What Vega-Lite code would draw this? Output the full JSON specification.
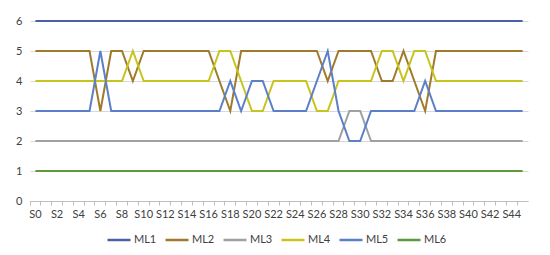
{
  "$schema": "https://vega.github.io/schema/vega-lite/v6.json",
  "autosize": "none",
  "width": 498,
  "height": 180,
  "padding": {"left": 30, "top": 21, "right": 22, "bottom": 54},
  "background": "white",
  "config": {
    "font": "Lato",
    "view": {"stroke": null},
    "axis": {"labelFont": "Lato", "labelFontSize": 11, "labelColor": "#404040"}
  },
  "data": {"values": [
{"s":"S0","k":"ML1","v":6},{"s":"S1","k":"ML1","v":6},{"s":"S2","k":"ML1","v":6},{"s":"S3","k":"ML1","v":6},{"s":"S4","k":"ML1","v":6},{"s":"S5","k":"ML1","v":6},{"s":"S6","k":"ML1","v":6},{"s":"S7","k":"ML1","v":6},{"s":"S8","k":"ML1","v":6},{"s":"S9","k":"ML1","v":6},
{"s":"S10","k":"ML1","v":6},{"s":"S11","k":"ML1","v":6},{"s":"S12","k":"ML1","v":6},{"s":"S13","k":"ML1","v":6},{"s":"S14","k":"ML1","v":6},{"s":"S15","k":"ML1","v":6},{"s":"S16","k":"ML1","v":6},{"s":"S17","k":"ML1","v":6},{"s":"S18","k":"ML1","v":6},{"s":"S19","k":"ML1","v":6},
{"s":"S20","k":"ML1","v":6},{"s":"S21","k":"ML1","v":6},{"s":"S22","k":"ML1","v":6},{"s":"S23","k":"ML1","v":6},{"s":"S24","k":"ML1","v":6},{"s":"S25","k":"ML1","v":6},{"s":"S26","k":"ML1","v":6},{"s":"S27","k":"ML1","v":6},{"s":"S28","k":"ML1","v":6},{"s":"S29","k":"ML1","v":6},
{"s":"S30","k":"ML1","v":6},{"s":"S31","k":"ML1","v":6},{"s":"S32","k":"ML1","v":6},{"s":"S33","k":"ML1","v":6},{"s":"S34","k":"ML1","v":6},{"s":"S35","k":"ML1","v":6},{"s":"S36","k":"ML1","v":6},{"s":"S37","k":"ML1","v":6},{"s":"S38","k":"ML1","v":6},{"s":"S39","k":"ML1","v":6},
{"s":"S40","k":"ML1","v":6},{"s":"S41","k":"ML1","v":6},{"s":"S42","k":"ML1","v":6},{"s":"S43","k":"ML1","v":6},{"s":"S44","k":"ML1","v":6},{"s":"S45","k":"ML1","v":6},
{"s":"S0","k":"ML2","v":5},{"s":"S1","k":"ML2","v":5},{"s":"S2","k":"ML2","v":5},{"s":"S3","k":"ML2","v":5},{"s":"S4","k":"ML2","v":5},{"s":"S5","k":"ML2","v":5},{"s":"S6","k":"ML2","v":3},{"s":"S7","k":"ML2","v":5},{"s":"S8","k":"ML2","v":5},{"s":"S9","k":"ML2","v":4},
{"s":"S10","k":"ML2","v":5},{"s":"S11","k":"ML2","v":5},{"s":"S12","k":"ML2","v":5},{"s":"S13","k":"ML2","v":5},{"s":"S14","k":"ML2","v":5},{"s":"S15","k":"ML2","v":5},{"s":"S16","k":"ML2","v":5},{"s":"S17","k":"ML2","v":4},{"s":"S18","k":"ML2","v":3},{"s":"S19","k":"ML2","v":5},
{"s":"S20","k":"ML2","v":5},{"s":"S21","k":"ML2","v":5},{"s":"S22","k":"ML2","v":5},{"s":"S23","k":"ML2","v":5},{"s":"S24","k":"ML2","v":5},{"s":"S25","k":"ML2","v":5},{"s":"S26","k":"ML2","v":5},{"s":"S27","k":"ML2","v":4},{"s":"S28","k":"ML2","v":5},{"s":"S29","k":"ML2","v":5},
{"s":"S30","k":"ML2","v":5},{"s":"S31","k":"ML2","v":5},{"s":"S32","k":"ML2","v":4},{"s":"S33","k":"ML2","v":4},{"s":"S34","k":"ML2","v":5},{"s":"S35","k":"ML2","v":4},{"s":"S36","k":"ML2","v":3},{"s":"S37","k":"ML2","v":5},{"s":"S38","k":"ML2","v":5},{"s":"S39","k":"ML2","v":5},
{"s":"S40","k":"ML2","v":5},{"s":"S41","k":"ML2","v":5},{"s":"S42","k":"ML2","v":5},{"s":"S43","k":"ML2","v":5},{"s":"S44","k":"ML2","v":5},{"s":"S45","k":"ML2","v":5},
{"s":"S0","k":"ML3","v":2},{"s":"S1","k":"ML3","v":2},{"s":"S2","k":"ML3","v":2},{"s":"S3","k":"ML3","v":2},{"s":"S4","k":"ML3","v":2},{"s":"S5","k":"ML3","v":2},{"s":"S6","k":"ML3","v":2},{"s":"S7","k":"ML3","v":2},{"s":"S8","k":"ML3","v":2},{"s":"S9","k":"ML3","v":2},
{"s":"S10","k":"ML3","v":2},{"s":"S11","k":"ML3","v":2},{"s":"S12","k":"ML3","v":2},{"s":"S13","k":"ML3","v":2},{"s":"S14","k":"ML3","v":2},{"s":"S15","k":"ML3","v":2},{"s":"S16","k":"ML3","v":2},{"s":"S17","k":"ML3","v":2},{"s":"S18","k":"ML3","v":2},{"s":"S19","k":"ML3","v":2},
{"s":"S20","k":"ML3","v":2},{"s":"S21","k":"ML3","v":2},{"s":"S22","k":"ML3","v":2},{"s":"S23","k":"ML3","v":2},{"s":"S24","k":"ML3","v":2},{"s":"S25","k":"ML3","v":2},{"s":"S26","k":"ML3","v":2},{"s":"S27","k":"ML3","v":2},{"s":"S28","k":"ML3","v":2},{"s":"S29","k":"ML3","v":3},
{"s":"S30","k":"ML3","v":3},{"s":"S31","k":"ML3","v":2},{"s":"S32","k":"ML3","v":2},{"s":"S33","k":"ML3","v":2},{"s":"S34","k":"ML3","v":2},{"s":"S35","k":"ML3","v":2},{"s":"S36","k":"ML3","v":2},{"s":"S37","k":"ML3","v":2},{"s":"S38","k":"ML3","v":2},{"s":"S39","k":"ML3","v":2},
{"s":"S40","k":"ML3","v":2},{"s":"S41","k":"ML3","v":2},{"s":"S42","k":"ML3","v":2},{"s":"S43","k":"ML3","v":2},{"s":"S44","k":"ML3","v":2},{"s":"S45","k":"ML3","v":2},
{"s":"S0","k":"ML4","v":4},{"s":"S1","k":"ML4","v":4},{"s":"S2","k":"ML4","v":4},{"s":"S3","k":"ML4","v":4},{"s":"S4","k":"ML4","v":4},{"s":"S5","k":"ML4","v":4},{"s":"S6","k":"ML4","v":4},{"s":"S7","k":"ML4","v":4},{"s":"S8","k":"ML4","v":4},{"s":"S9","k":"ML4","v":5},
{"s":"S10","k":"ML4","v":4},{"s":"S11","k":"ML4","v":4},{"s":"S12","k":"ML4","v":4},{"s":"S13","k":"ML4","v":4},{"s":"S14","k":"ML4","v":4},{"s":"S15","k":"ML4","v":4},{"s":"S16","k":"ML4","v":4},{"s":"S17","k":"ML4","v":5},{"s":"S18","k":"ML4","v":5},{"s":"S19","k":"ML4","v":4},
{"s":"S20","k":"ML4","v":3},{"s":"S21","k":"ML4","v":3},{"s":"S22","k":"ML4","v":4},{"s":"S23","k":"ML4","v":4},{"s":"S24","k":"ML4","v":4},{"s":"S25","k":"ML4","v":4},{"s":"S26","k":"ML4","v":3},{"s":"S27","k":"ML4","v":3},{"s":"S28","k":"ML4","v":4},{"s":"S29","k":"ML4","v":4},
{"s":"S30","k":"ML4","v":4},{"s":"S31","k":"ML4","v":4},{"s":"S32","k":"ML4","v":5},{"s":"S33","k":"ML4","v":5},{"s":"S34","k":"ML4","v":4},{"s":"S35","k":"ML4","v":5},{"s":"S36","k":"ML4","v":5},{"s":"S37","k":"ML4","v":4},{"s":"S38","k":"ML4","v":4},{"s":"S39","k":"ML4","v":4},
{"s":"S40","k":"ML4","v":4},{"s":"S41","k":"ML4","v":4},{"s":"S42","k":"ML4","v":4},{"s":"S43","k":"ML4","v":4},{"s":"S44","k":"ML4","v":4},{"s":"S45","k":"ML4","v":4},
{"s":"S0","k":"ML5","v":3},{"s":"S1","k":"ML5","v":3},{"s":"S2","k":"ML5","v":3},{"s":"S3","k":"ML5","v":3},{"s":"S4","k":"ML5","v":3},{"s":"S5","k":"ML5","v":3},{"s":"S6","k":"ML5","v":5},{"s":"S7","k":"ML5","v":3},{"s":"S8","k":"ML5","v":3},{"s":"S9","k":"ML5","v":3},
{"s":"S10","k":"ML5","v":3},{"s":"S11","k":"ML5","v":3},{"s":"S12","k":"ML5","v":3},{"s":"S13","k":"ML5","v":3},{"s":"S14","k":"ML5","v":3},{"s":"S15","k":"ML5","v":3},{"s":"S16","k":"ML5","v":3},{"s":"S17","k":"ML5","v":3},{"s":"S18","k":"ML5","v":4},{"s":"S19","k":"ML5","v":3},
{"s":"S20","k":"ML5","v":4},{"s":"S21","k":"ML5","v":4},{"s":"S22","k":"ML5","v":3},{"s":"S23","k":"ML5","v":3},{"s":"S24","k":"ML5","v":3},{"s":"S25","k":"ML5","v":3},{"s":"S26","k":"ML5","v":4},{"s":"S27","k":"ML5","v":5},{"s":"S28","k":"ML5","v":3},{"s":"S29","k":"ML5","v":2},
{"s":"S30","k":"ML5","v":2},{"s":"S31","k":"ML5","v":3},{"s":"S32","k":"ML5","v":3},{"s":"S33","k":"ML5","v":3},{"s":"S34","k":"ML5","v":3},{"s":"S35","k":"ML5","v":3},{"s":"S36","k":"ML5","v":4},{"s":"S37","k":"ML5","v":3},{"s":"S38","k":"ML5","v":3},{"s":"S39","k":"ML5","v":3},
{"s":"S40","k":"ML5","v":3},{"s":"S41","k":"ML5","v":3},{"s":"S42","k":"ML5","v":3},{"s":"S43","k":"ML5","v":3},{"s":"S44","k":"ML5","v":3},{"s":"S45","k":"ML5","v":3},
{"s":"S0","k":"ML6","v":1},{"s":"S1","k":"ML6","v":1},{"s":"S2","k":"ML6","v":1},{"s":"S3","k":"ML6","v":1},{"s":"S4","k":"ML6","v":1},{"s":"S5","k":"ML6","v":1},{"s":"S6","k":"ML6","v":1},{"s":"S7","k":"ML6","v":1},{"s":"S8","k":"ML6","v":1},{"s":"S9","k":"ML6","v":1},
{"s":"S10","k":"ML6","v":1},{"s":"S11","k":"ML6","v":1},{"s":"S12","k":"ML6","v":1},{"s":"S13","k":"ML6","v":1},{"s":"S14","k":"ML6","v":1},{"s":"S15","k":"ML6","v":1},{"s":"S16","k":"ML6","v":1},{"s":"S17","k":"ML6","v":1},{"s":"S18","k":"ML6","v":1},{"s":"S19","k":"ML6","v":1},
{"s":"S20","k":"ML6","v":1},{"s":"S21","k":"ML6","v":1},{"s":"S22","k":"ML6","v":1},{"s":"S23","k":"ML6","v":1},{"s":"S24","k":"ML6","v":1},{"s":"S25","k":"ML6","v":1},{"s":"S26","k":"ML6","v":1},{"s":"S27","k":"ML6","v":1},{"s":"S28","k":"ML6","v":1},{"s":"S29","k":"ML6","v":1},
{"s":"S30","k":"ML6","v":1},{"s":"S31","k":"ML6","v":1},{"s":"S32","k":"ML6","v":1},{"s":"S33","k":"ML6","v":1},{"s":"S34","k":"ML6","v":1},{"s":"S35","k":"ML6","v":1},{"s":"S36","k":"ML6","v":1},{"s":"S37","k":"ML6","v":1},{"s":"S38","k":"ML6","v":1},{"s":"S39","k":"ML6","v":1},
{"s":"S40","k":"ML6","v":1},{"s":"S41","k":"ML6","v":1},{"s":"S42","k":"ML6","v":1},{"s":"S43","k":"ML6","v":1},{"s":"S44","k":"ML6","v":1},{"s":"S45","k":"ML6","v":1}
  ]},
  "mark": {"type": "line", "strokeWidth": 2},
  "encoding": {
    "x": {
      "field": "s", "type": "ordinal", "sort": null,
      "scale": {"type": "band", "paddingInner": 0, "paddingOuter": 0},
      "axis": {
        "title": null, "labelAngle": 0, "labelOverlap": false,
        "labelExpr": "parseInt(substring(datum.label, 1)) % 2 == 0 ? datum.label : ''",
        "bandPosition": 0, "domainColor": "#BFBFBF", "tickColor": "#BFBFBF",
        "tickSize": 4, "labelPadding": 3, "grid": false
      }
    },
    "y": {
      "field": "v", "type": "quantitative",
      "scale": {"domain": [0, 6], "nice": false},
      "axis": {
        "title": null, "values": [0, 1, 2, 3, 4, 5, 6], "domain": false, "ticks": false,
        "labelPadding": 8, "grid": true, "gridColor": "#D9D9D9"
      }
    },
    "color": {
      "field": "k", "type": "nominal",
      "scale": {
        "domain": ["ML1", "ML2", "ML3", "ML4", "ML5", "ML6"],
        "range": ["#4A5FA8", "#A07A2C", "#A0A0A0", "#C8C41E", "#5B7FC9", "#5E9A3A"]
      },
      "legend": {
        "title": null, "orient": "none", "direction": "horizontal",
        "legendX": 76, "legendY": 206,
        "symbolType": "stroke", "symbolSize": 529, "symbolStrokeWidth": 2.5,
        "labelFont": "Lato", "labelFontSize": 11, "labelColor": "#404040",
        "labelOffset": 2, "columnPadding": 3
      }
    }
  }
}
